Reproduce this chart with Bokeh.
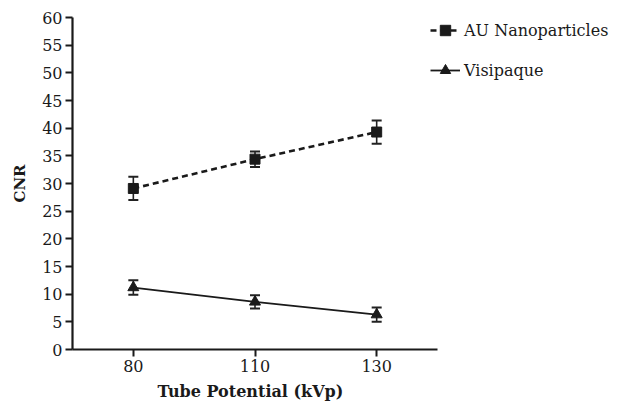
from bokeh.plotting import figure
from bokeh.models import (ColumnDataSource, Legend, LegendItem, FixedTicker, Range1d, Title)
from bokeh.embed import file_html
from bokeh.resources import INLINE

kvp = ["80", "110", "130"]
au_cnr = [29.1, 34.4, 39.3]
au_err = [2.1, 1.4, 2.1]
vis_cnr = [11.2, 8.6, 6.3]
vis_err = [1.3, 1.2, 1.3]
y_ticks = list(range(0, 61, 5))

FONT = "DejaVu Serif"
pos = list(range(len(kvp)))

W, H = 614, 408
LEFT, TOP = 72, 17
BOTTOM = H - 349
PX_PER_CAT = 121.67
frame_w = W - LEFT

p = figure(width=W, height=H,
           x_range=Range1d(-0.5, -0.5 + frame_w / PX_PER_CAT), y_range=Range1d(0, 60),
           output_backend="svg", toolbar_location=None,
           min_border_left=LEFT, min_border_top=TOP, min_border_right=0, min_border_bottom=BOTTOM)
p.outline_line_color = None
p.xgrid.visible = False
p.ygrid.visible = False

au = ColumnDataSource(dict(x=pos, y=au_cnr,
                           lo=[v - e for v, e in zip(au_cnr, au_err)],
                           hi=[v + e for v, e in zip(au_cnr, au_err)]))
vis = ColumnDataSource(dict(x=pos, y=vis_cnr,
                            lo=[v - e for v, e in zip(vis_cnr, vis_err)],
                            hi=[v + e for v, e in zip(vis_cnr, vis_err)]))

for src in (au, vis):
    p.segment(x0="x", y0="lo", x1="x", y1="hi", source=src, line_color="#222222", line_width=1.6)
    p.scatter(x="x", y="lo", source=src, marker="dash", size=10, line_color="#222222", line_width=2)
    p.scatter(x="x", y="hi", source=src, marker="dash", size=10, line_color="#222222", line_width=2)

l1 = p.line(x="x", y="y", source=au, line_color="#1a1a1a", line_width=2.6, line_dash="6 4")
m1 = p.scatter(x="x", y="y", source=au, marker="square", size=10, fill_color="#1a1a1a", line_color="#1a1a1a")
l2 = p.line(x="x", y="y", source=vis, line_color="#1a1a1a", line_width=1.8)
m2 = p.scatter(x="x", y="y", source=vis, marker="triangle", size=11, fill_color="#1a1a1a", line_color="#1a1a1a")

for ax in (p.xaxis[0], p.yaxis[0]):
    ax.axis_line_width = 2.2
    ax.axis_line_color = "#1a1a1a"
    ax.major_tick_line_width = 2
    ax.major_tick_line_color = "#1a1a1a"
    ax.major_tick_in = 0
    ax.major_tick_out = 7
    ax.minor_tick_line_color = None
    ax.major_label_text_font = FONT
    ax.major_label_text_font_size = "16px"
    ax.major_label_text_color = "#1a1a1a"
    ax.axis_label_text_font = FONT
    ax.axis_label_text_font_style = "bold"
    ax.axis_label_text_color = "#1a1a1a"

p.yaxis.ticker = FixedTicker(ticks=y_ticks)
p.xaxis.ticker = FixedTicker(ticks=pos)
p.xaxis.major_label_overrides = {i: k for i, k in zip(pos, kvp)}
p.xaxis.bounds = (-0.5, len(kvp) - 0.5)
p.yaxis.major_label_standoff = 3
p.xaxis.major_label_standoff = 3
p.yaxis.axis_label = "CNR"
p.yaxis.axis_label_text_font_size = "15px"
p.yaxis.axis_label_standoff = 10

xtitle = Title(text="Tube Potential (kVp)", align="left", offset=85,
               text_font=FONT, text_font_style="bold", text_font_size="16px",
               text_color="#1a1a1a", standoff=10)
p.add_layout(xtitle, "below")

legend = Legend(items=[LegendItem(label="AU Nanoparticles", renderers=[l1, m1]),
                       LegendItem(label="Visipaque", renderers=[l2, m2])],
                location=(358, 266), orientation="vertical",
                label_text_font=FONT, label_text_font_size="16px", label_text_color="#1a1a1a",
                glyph_width=30, glyph_height=26, label_height=26, spacing=14,
                padding=0, margin=0, border_line_color=None, background_fill_alpha=0,
                label_standoff=4)
p.add_layout(legend, "center")

open("out.html", "w").write(file_html(p, INLINE))
